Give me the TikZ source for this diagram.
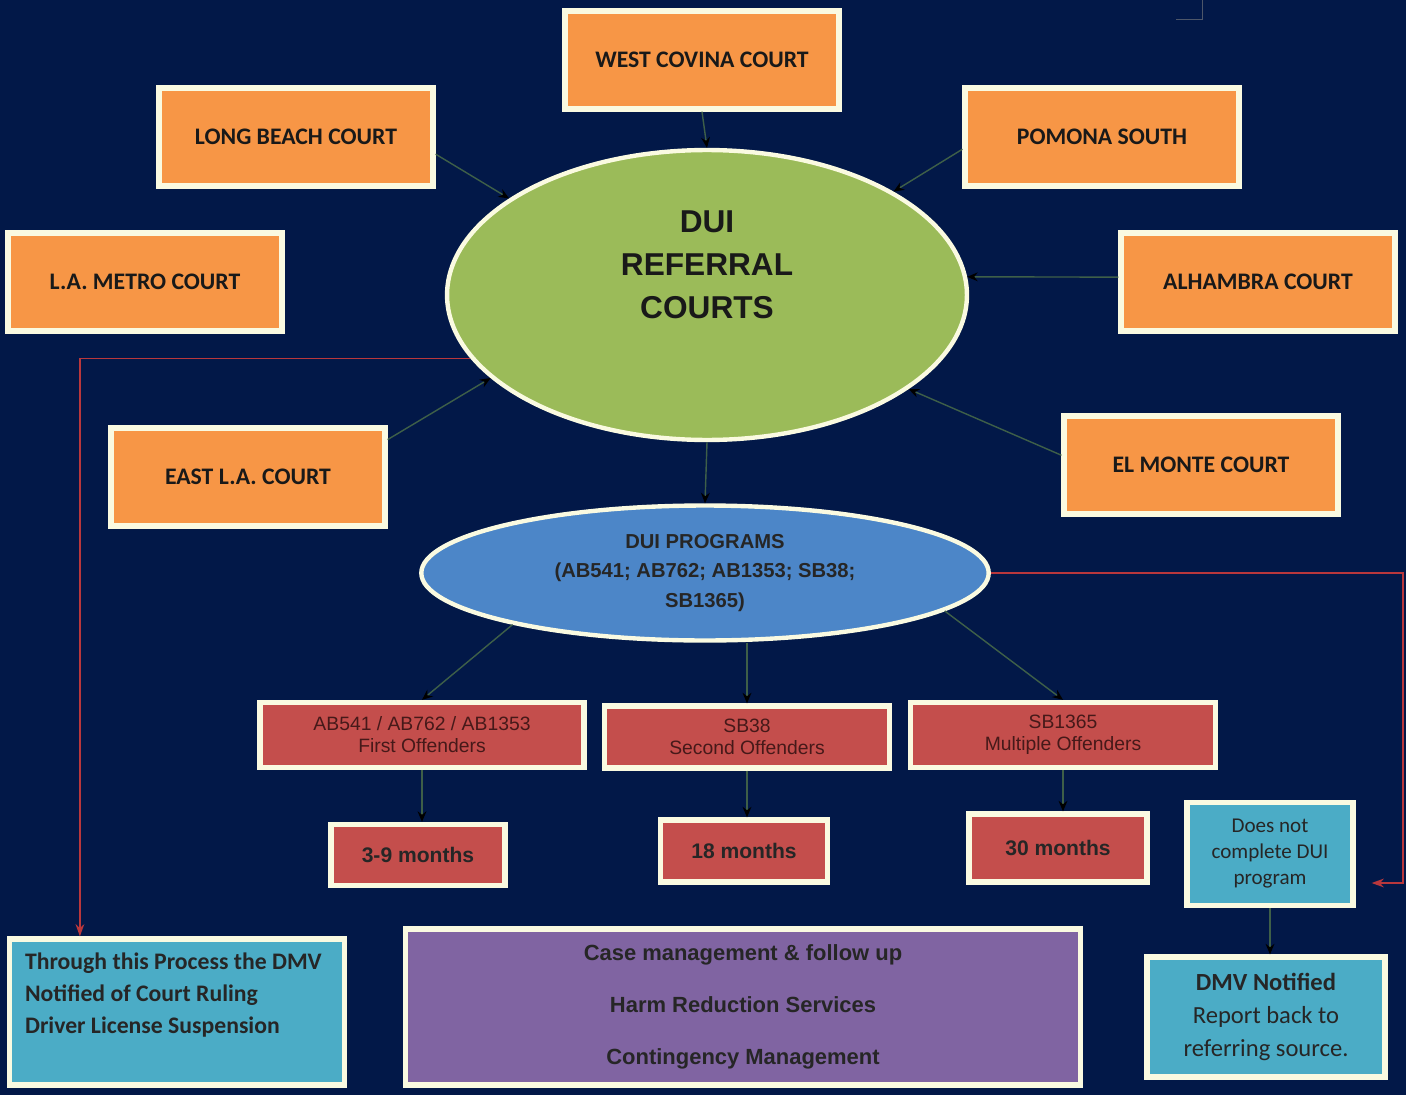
\documentclass[tikz,border=0pt]{standalone}
\usepackage{fontspec}
\setmainfont{Liberation Sans}
\newfontfamily\calibri{Carlito}
\usetikzlibrary{shapes.geometric,arrows.meta,calc}
\definecolor{navy}{RGB}{2,24,72}
\definecolor{courtorange}{RGB}{247,150,70}
\definecolor{refgreen}{RGB}{155,187,89}
\definecolor{progblue}{RGB}{76,134,200}
\definecolor{boxred}{RGB}{196,78,76}
\definecolor{textred}{RGB}{70,25,25}
\definecolor{mgmtpurple}{RGB}{128,100,162}
\definecolor{noticecyan}{RGB}{75,172,198}
\definecolor{linkgreen}{RGB}{62,95,72}
\definecolor{feedred}{RGB}{185,55,60}
\definecolor{rimwhite}{RGB}{250,250,225}
\begin{document}
\begin{tikzpicture} [
                x=0.02cm, y=-0.02cm,
                court/.style={rectangle,fill=courtorange,draw=rimwhite,line width=3pt,minimum width=5.48cm,minimum height=1.96cm,font=\calibri\bfseries\fontsize{13.5}{16}\selectfont,text=black!90},
                offence/.style={rectangle,fill=boxred,draw=rimwhite,line width=3pt,minimum height=1.3cm,align=center,font=\fontsize{11}{12.5}\selectfont,text=textred},
                months/.style={rectangle,fill=boxred,draw=rimwhite,line width=3pt,font=\bfseries\fontsize{12}{14}\selectfont,text=black!85},
                notice/.style={rectangle,fill=noticecyan,draw=rimwhite,line width=3pt,text=black!85},
                link/.style = {draw=linkgreen,thick,-{Stealth[length=6pt,width=5pt,color=black]}},
                feedback/.style = {draw=feedred,thick,-{Stealth[length=7pt,width=5pt]}},
            ]
            \useasboundingbox (0,0) rectangle (1406,1095);
            \fill[navy] (0,0) rectangle (1406,1095);
            \draw[gray!60!navy] (1202,0) -- (1202,19) -- (1176,19);
            % First we draw the referral courts
            \node[ellipse,fill=refgreen,draw=rimwhite,line width=2.5pt,minimum width=10.4cm,minimum height=5.8cm,inner sep=0pt] (refcourts) at (707,295) {};
            \node[align=center,font=\bfseries\fontsize{18}{24.5}\selectfont,text=black!90] (refcourtstext) at (707,265) {DUI\\REFERRAL\\COURTS};
            \foreach \pos/\name/\label in {
                    {(702,60)/wcovina/WEST COVINA COURT},
                    {(296,137)/lbeach/LONG BEACH COURT},
                    {(1102,137)/pomona/POMONA SOUTH},
                    {(145,282)/lametro/L.A. METRO COURT},
                    {(1258,282)/alhambra/ALHAMBRA COURT},
                    {(248,477)/eastla/EAST L.A. COURT},
                    {(1201,465)/elmonte/EL MONTE COURT}}
                \node[court] (\name) at \pos {\label};
            % Courts refer to the centre
            \foreach \source/\dest in {
                    wcovina.south/refcourts.north,
                    lbeach.-7/refcourts.154,
                    pomona.185/refcourts.29,
                    alhambra.178/refcourts.4,
                    elmonte.176/refcourts.-25,
                    eastla.15/refcourts.201}
                \draw[link] (\source) -- (\dest);
            % Programs and offender groups
            \node[ellipse,fill=progblue,draw=rimwhite,line width=2.5pt,minimum width=11.35cm,minimum height=2.7cm,inner sep=0pt,align=center,font=\bfseries\fontsize{11.5}{17}\selectfont,text=black!85] (progs) at (705,573) {DUI PROGRAMS\\(AB541; AB762; AB1353; SB38;\\SB1365)};
            \draw[link] (refcourts.south) -- (progs.north);
            \node[offence,minimum width=6.48cm] (first) at (422,735) {AB541 / AB762 / AB1353\\First Offenders};
            \node[offence,minimum width=5.7cm,minimum height=1.24cm] (second) at (747,737) {SB38\\Second Offenders};
            \node[offence,minimum width=6.1cm] (third) at (1063,735) {SB1365\\Multiple Offenders};
            \draw[link] (progs.195) -- (first.north);
            \draw[link] (second.north |- progs.south) -- (second.north);
            \draw[link] (progs.-9) -- (third.north);
            \node[months,minimum width=3.48cm,minimum height=1.22cm] (nine) at (418,855) {3-9 months};
            \node[months,minimum width=3.34cm,minimum height=1.24cm] (eighteen) at (744,851) {18 months};
            \node[months,minimum width=3.56cm,minimum height=1.36cm] (thirty) at (1058,848) {30 months};
            \foreach \source/\dest in {first/nine, second/eighteen, third/thirty}
                \draw[link] (\source.south) -- (\source.south |- \dest.north);
            % Notices and services
            \node[notice,minimum width=3.32cm,minimum height=2.06cm,align=center,font=\calibri\fontsize{12}{14.8}\selectfont] (dnc) at (1270,854) {Does not\\complete DUI\\program};
            \node[notice,minimum width=4.76cm,minimum height=2.4cm,align=center,font=\calibri\fontsize{14}{18.8}\selectfont] (dmv) at (1266,1017) {\textbf{DMV Notified}\\Report back to\\referring source.};
            \draw[link] (dnc.south) -- (dnc.south |- dmv.north);
            \node[notice,minimum width=6.7cm,minimum height=2.92cm] (thru) at (177,1012) {};
            \node[anchor=north west,align=left,font=\calibri\bfseries\fontsize{13.5}{18.2}\selectfont,text=black!85] (thrutext) at ($(thru.north west)+(12,10)$) {Through this Process the DMV\\Notified of Court Ruling\\Driver License Suspension};
            \node[rectangle,fill=mgmtpurple,draw=rimwhite,line width=3pt,minimum width=13.5cm,minimum height=3.12cm,align=center,font=\bfseries\fontsize{12.5}{29.6}\selectfont,text=black!85] (mgmt) at (743,1007) {Case management \& follow up\\Harm Reduction Services\\Contingency Management};
            % Red feedback lines
            \draw[feedback] (refcourts.195) -| ($(thru.north west)+(73,0)$);
            \draw[feedback] (progs.east) -- ++(412,0) |- ($(dnc.east)+(16,29)$);
        \end{tikzpicture}
\end{document}
